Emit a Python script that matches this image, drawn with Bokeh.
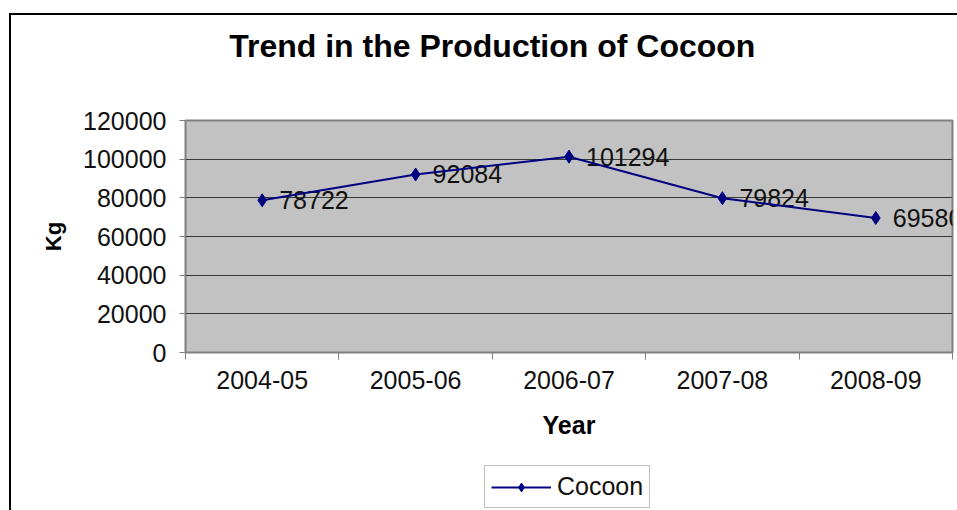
from bokeh.plotting import figure
from bokeh.layouts import column
from bokeh.core.properties import value
from bokeh.models import (Range1d, FixedTicker, ColumnDataSource, LabelSet, LinearAxis,
                          Legend, LegendItem, NumeralTickFormatter)
from bokeh.embed import file_html
from bokeh.resources import INLINE

# ---- data ----
years = ["2004-05", "2005-06", "2006-07", "2007-08", "2008-09"]
cocoon = [78722, 92084, 101294, 79824, 69580]
y_ticks = [0, 20000, 40000, 60000, 80000, 100000, 120000]
title_text = "Trend in the Production of Cocoon"
x_title = "Year"
y_title = "Kg"
series_name = "Cocoon"

FONT = "Liberation Sans"
LINE = "#000080"
TXT = "#111111"

xs = [i + 0.5 for i in range(len(years))]
src = ColumnDataSource(dict(x=xs, y=cocoon, label=[str(v) for v in cocoon]))

# ---------------- main chart ----------------
p = figure(width=946, height=445, output_backend="svg", toolbar_location=None,
           title=None,
           x_range=Range1d(0, len(years)), y_range=Range1d(y_ticks[0], y_ticks[-1]),
           min_border_left=174, min_border_right=5, min_border_top=105,
           min_border_bottom=108)

p.background_fill_color = "#c2c2c2"
p.border_fill_color = "white"
p.outline_line_color = "#808080"
p.outline_line_width = 2

# y axis
ya = p.yaxis[0]
ya.ticker = FixedTicker(ticks=y_ticks)
ya.formatter = NumeralTickFormatter(format="0")
ya.axis_line_color = None
ya.major_tick_line_color = "#808080"
ya.major_tick_out = 6
ya.major_tick_in = 0
ya.minor_tick_line_color = None
ya.minor_tick_out = 0
ya.major_label_standoff = 13
ya.major_label_text_font = FONT
ya.major_label_text_font_size = "25px"
ya.major_label_text_color = TXT
ya.axis_label = y_title
ya.axis_label_standoff = 14
ya.axis_label_text_font = FONT
ya.axis_label_text_font_size = "22px"
ya.axis_label_text_font_style = "bold"
ya.axis_label_text_color = "black"

# x axis: labels at centres, tick marks at category boundaries
xa = p.xaxis[0]
xa.ticker = FixedTicker(ticks=xs, minor_ticks=list(range(len(years) + 1)))
xa.major_label_overrides = {x: y for x, y in zip(xs, years)}
xa.axis_line_color = None
xa.major_tick_line_color = None
xa.major_tick_out = 0
xa.major_tick_in = 0
xa.minor_tick_line_color = "#808080"
xa.minor_tick_out = 7
xa.minor_tick_in = 0
xa.major_label_standoff = 11
xa.major_label_text_font = FONT
xa.major_label_text_font_size = "25px"
xa.major_label_text_color = TXT
xa.axis_label = x_title
xa.axis_label_standoff = 19
xa.axis_label_text_font = FONT
xa.axis_label_text_font_size = "25px"
xa.axis_label_text_font_style = "bold"
xa.axis_label_text_color = "black"

# chart title, drawn as the single label of an axis above the plot area
title_axis = LinearAxis(ticker=FixedTicker(ticks=[2.0], minor_ticks=[]),
                        major_label_overrides={2.0: title_text})
title_axis.axis_line_color = None
title_axis.major_tick_line_color = None
title_axis.minor_tick_line_color = None
title_axis.major_tick_out = 0
title_axis.major_tick_in = 0
title_axis.minor_tick_out = 0
title_axis.minor_tick_in = 0
title_axis.major_label_standoff = 57
title_axis.major_label_text_font = FONT
title_axis.major_label_text_font_size = "32px"
title_axis.major_label_text_font_style = "bold"
title_axis.major_label_text_color = "black"
p.add_layout(title_axis, "above")

p.xgrid.visible = False
p.ygrid.ticker = FixedTicker(ticks=y_ticks)
p.ygrid.grid_line_color = "#383838"
p.ygrid.grid_line_width = 1

# data labels (drawn under the line)
labels = LabelSet(x="x", y="y", text="label", source=src, x_offset=17, y_offset=0,
                  text_baseline="middle", text_align="left",
                  text_font=value(FONT), text_font_size="25px", text_color=TXT,
                  level="underlay")
p.add_layout(labels)

p.line("x", "y", source=src, line_color=LINE, line_width=2)
p.scatter("x", "y", source=src, marker="diamond", size=13,
          fill_color=LINE, line_color=LINE)

# ---------------- legend strip below the chart ----------------
leg = figure(width=946, height=50, output_backend="svg", toolbar_location=None,
             title=None, x_axis_location=None, y_axis_location=None,
             x_range=Range1d(0, len(years)), y_range=Range1d(-2, -1),
             min_border=0)
leg.background_fill_color = "white"
leg.border_fill_color = "white"
leg.outline_line_color = None
leg.grid.visible = False
# same series, outside this strip's visible range: only its legend entry shows
lr = leg.line("x", "y", source=src, line_color=LINE, line_width=2)
sr = leg.scatter("x", "y", source=src, marker="diamond", size=13,
                 fill_color=LINE, line_color=LINE)
legend = Legend(items=[LegendItem(label=series_name, renderers=[lr, sr])],
                location=(299, 2), orientation="vertical",
                label_text_font=FONT, label_text_font_size="25px",
                label_text_color=TXT,
                glyph_width=60, glyph_height=22, label_standoff=6,
                padding=6, spacing=0, margin=0,
                border_line_color="#808080", border_line_width=1,
                background_fill_color="white", background_fill_alpha=1)
leg.add_layout(legend, "center")

page = column(p, leg, spacing=0)
# outer chart frame (its left and top edges are visible in the window)
page.margin = (13, 0, 0, 9)
page.styles = {"border-left": "2px solid black", "border-top": "2px solid black"}

open("out.html", "w").write(file_html(page, INLINE))
